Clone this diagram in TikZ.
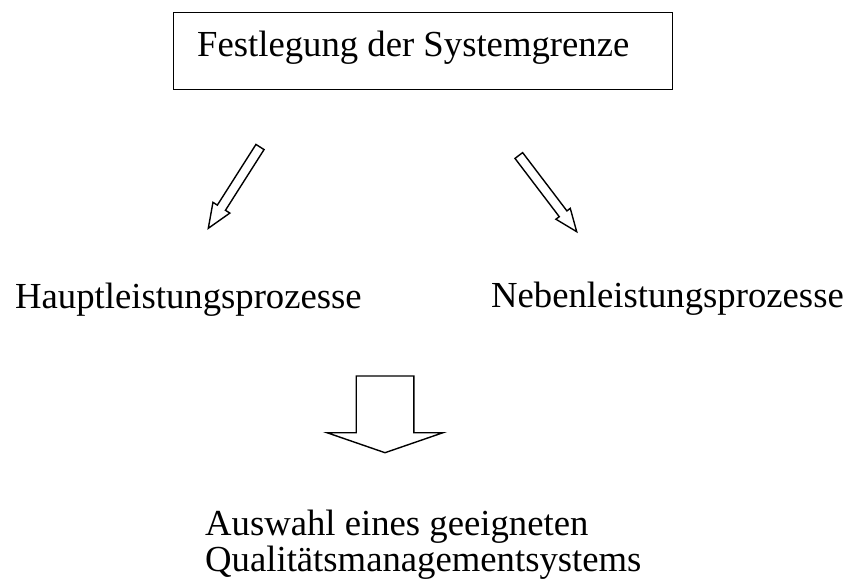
\documentclass[tikz,border=0pt]{standalone}
\usepackage{fontspec}
\setmainfont{Liberation Serif}
\usetikzlibrary{calc}
\newcommand\hollowarrow[6]{% name, tail, tip, shaft half width, head half width, head length
  \coordinate (#1hb) at ($(#3)!#6!(#2)$);
  \draw[outline] ($(#2)!#4!90:(#3)$) -- ($(#1hb)!#4!90:(#3)$) -- ($(#1hb)!#5!90:(#3)$) -- (#3)
    -- ($(#1hb)!#5!-90:(#3)$) -- ($(#1hb)!#4!-90:(#3)$) -- ($(#2)!#4!-90:(#3)$) -- cycle;
}
\begin{document}
\begin{tikzpicture}[x=1pt,y=-1pt,
  txt/.style={inner sep=0pt, font=\fontsize{36.7}{36}\selectfont},
  outline/.style={draw=black, line width=1.4pt, line join=miter, fill=white}]
\useasboundingbox (0,0) rectangle (848,583);
% top box
\node[draw=black, line width=1.4pt, minimum width=499pt, minimum height=77pt,
      anchor=north west, inner sep=0pt] (box) at (173,12) {};
\node[txt, anchor=base west] (boxtext) at (197,57) {Festlegung der Systemgrenze};
% second row
\node[txt, anchor=base west] (hl) at (15,308) {Hauptleistungsprozesse};
\node[txt, anchor=base east] (nl) at (844,307.5) {Nebenleistungsprozesse};
% bottom text
\node[txt, anchor=base west] (qm1) at (205,535) {Auswahl eines geeigneten};
\node[txt, anchor=base west] (qm2) at (205,571) {Qualitätsmanagementsystems};
% arrow coordinates
\coordinate (t1) at (260,147);
\coordinate (p1) at (208.3,228.3);
\coordinate (t2) at (518.8,155.5);
\coordinate (p2) at (576.7,231.7);
\coordinate (t3) at (385,376);
\coordinate (p3) at (385,452.7);
\hollowarrow{a}{t1}{p1}{4.8pt}{10pt}{24.4pt}
\hollowarrow{b}{t2}{p2}{4.8pt}{9pt}{22.5pt}
\hollowarrow{c}{t3}{p3}{28.8pt}{58pt}{20pt}
\end{tikzpicture}
\end{document}
